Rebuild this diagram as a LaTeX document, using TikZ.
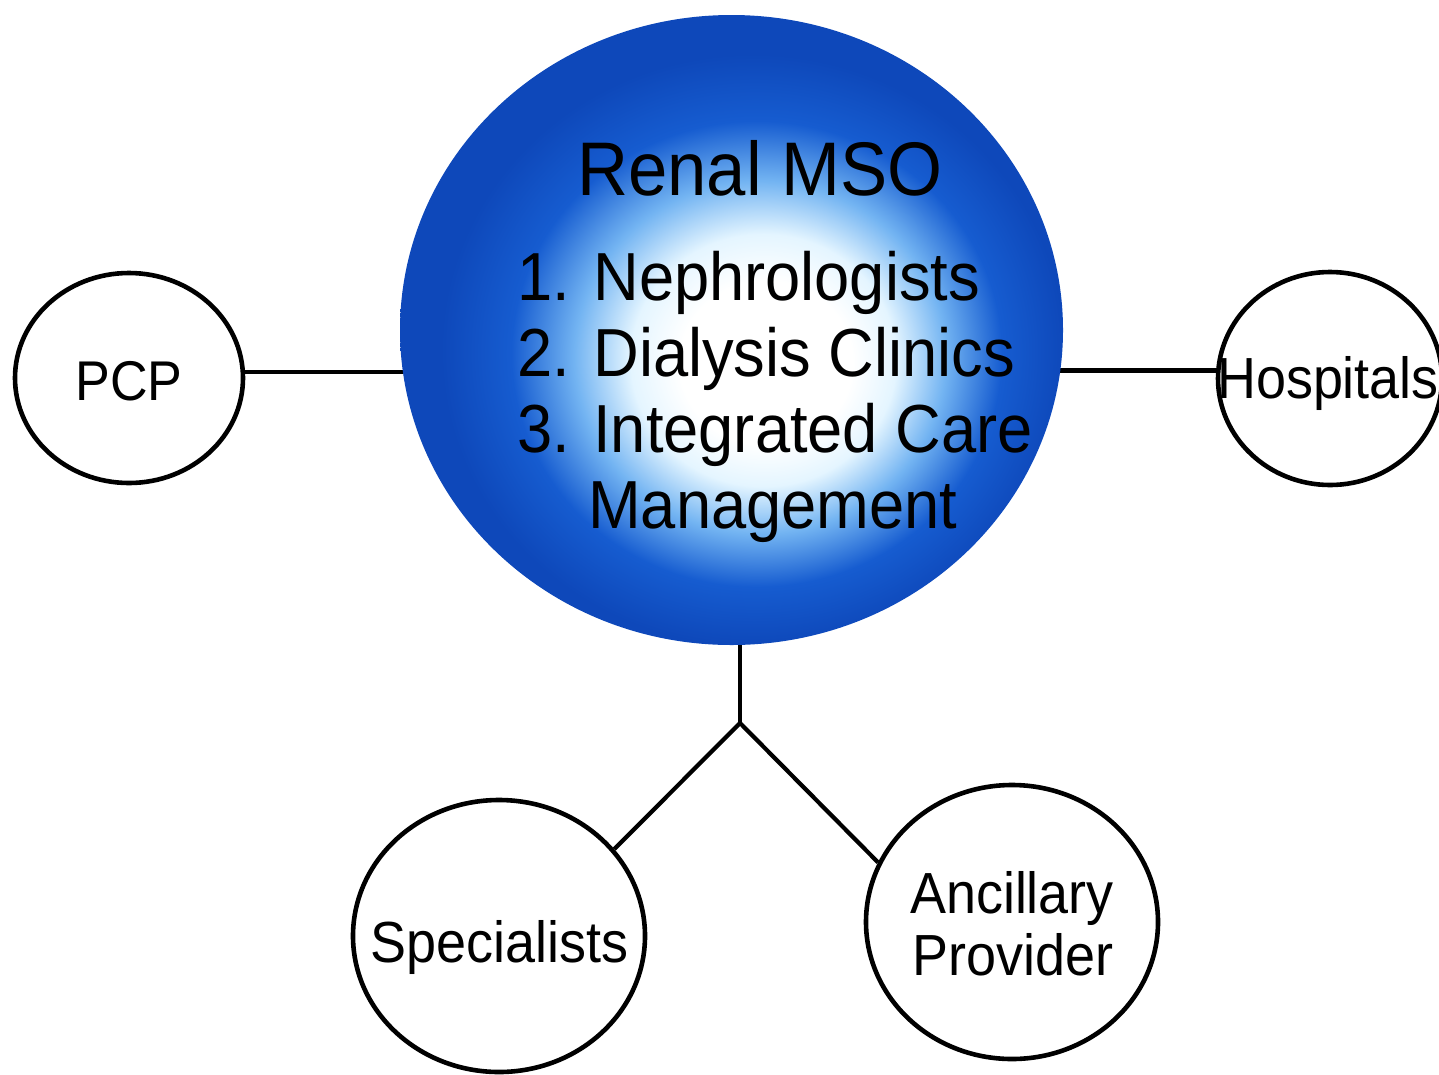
\documentclass[tikz,border=0pt]{standalone}
\usepackage{fontspec}
\setmainfont{Liberation Sans}
\newfontfamily\labelfont[FakeStretch=0.93]{Liberation Sans}
\usetikzlibrary{shapes.geometric,backgrounds}

\definecolor{msoedge}{RGB}{14,72,186}
\definecolor{msomid}{RGB}{22,92,208}
\definecolor{msolight}{RGB}{115,180,242}
\definecolor{msopale}{RGB}{228,245,255}

% glow: the node's outline sits at 25bp, the centre of the glow slightly low-right
\pgfdeclareradialshading{msoglow}{\pgfpoint{3bp}{-3bp}}{%
  color(0bp)=(white); color(6.5bp)=(white); color(10bp)=(msopale);
  color(14bp)=(msolight); color(18.5bp)=(msomid); color(23.5bp)=(msoedge);
  color(50bp)=(msoedge)}

\tikzset{
  partner/.style={draw=black, line width=4.6pt, ellipse, fill=white, inner sep=0pt},
  link/.style={draw=black, line width=4.2pt},
  txt/.style={inner sep=0pt, font=\labelfont\fontsize{58}{60}\selectfont},
  listtxt/.style={inner sep=0pt, anchor=base west, font=\labelfont\fontsize{68}{70}\selectfont}
}

\begin{document}
\begin{tikzpicture}[x=1pt, y=-1pt]
  \useasboundingbox (0,0) rectangle (1439,1074);
  \clip (0,0) rectangle (1439,1074);

  % central organisation
  \node[ellipse, minimum width=663pt, minimum height=630pt, inner sep=0pt,
        shading=msoglow] (mso) at (731.5,330) {};
  \node[inner sep=0pt, anchor=base, font=\labelfont\fontsize{76}{78}\selectfont]
        (msotitle) at (760,195) {Renal MSO};
  \node[listtxt] (item1) at (517,300) {1. Nephrologists};
  \node[listtxt] (item2) at (517,376) {2. Dialysis Clinics};
  \node[listtxt] (item3) at (517,452) {3. Integrated Care};
  \node[listtxt] (item3b) at (588,528) {Management};

  % partner circles
  \node[partner, minimum width=228pt, minimum height=210pt] (pcp) at (129,378) {};
  \node[partner, minimum width=224pt, minimum height=213pt] (hosp) at (1330,378.5) {};
  \node[partner, minimum width=292pt, minimum height=272pt] (spec) at (499,936) {};
  \node[partner, minimum width=292pt, minimum height=274pt] (anc) at (1012,922) {};

  \node[txt, anchor=base, font=\labelfont\fontsize{56}{58}\selectfont] (pcptxt) at (129,400) {PCP};
  \node[txt, anchor=base] (hosptxt) at (1328,398) {Hospitals};
  \node[txt, anchor=base] (spectxt) at (499.5,962) {Specialists};
  \node[txt, anchor=base] (anctxt1) at (1012,913) {Ancillary};
  \node[txt, anchor=base] (anctxt2) at (1013,975) {Provider};

  \coordinate (fork) at (740,723);

  % connectors
  \begin{scope}[on background layer]
    \draw[link] ([yshift=6pt]pcp.east) -- ([yshift=6pt]pcp.east -| mso.center);
    \draw[link] ([yshift=8pt]hosp.west) -- ([yshift=8pt]hosp.west -| mso.center);
    \draw[link] (fork |- mso.center) -- (fork);
    \draw[link, line join=miter] (spec.37) -- (fork) -- (anc.156);
  \end{scope}
\end{tikzpicture}
\end{document}
